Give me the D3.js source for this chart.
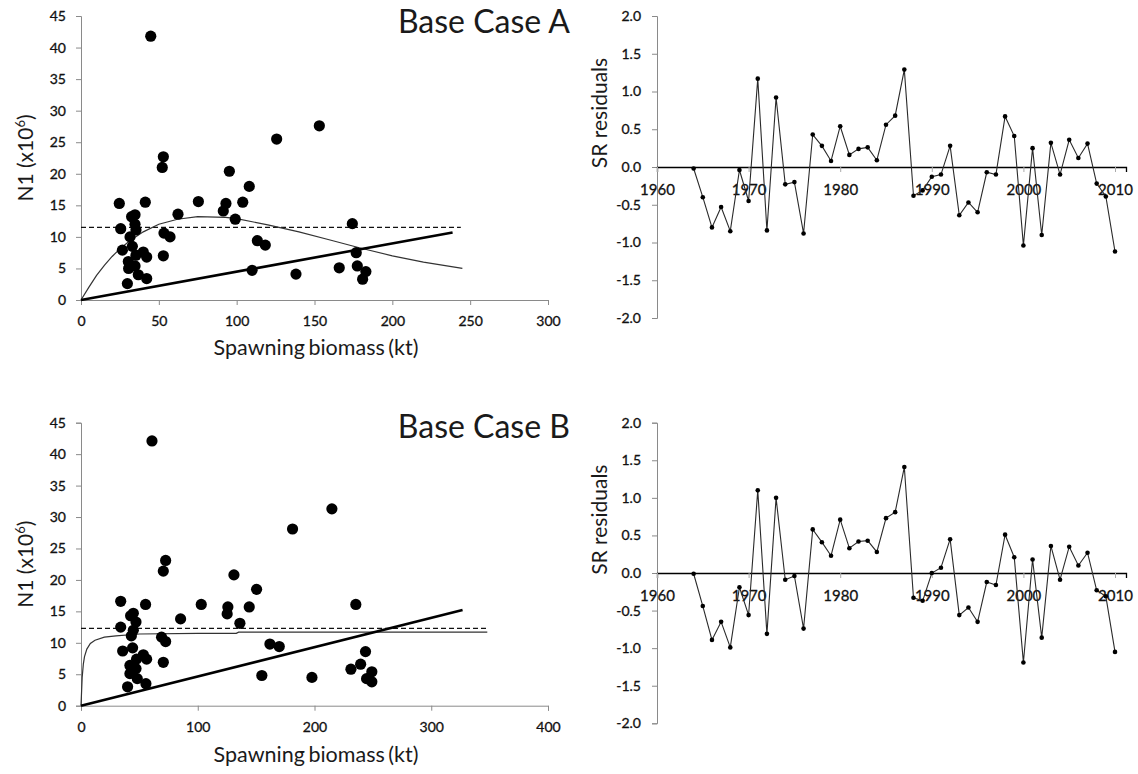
<!DOCTYPE html>
<html lang="en">
<head>
<meta charset="utf-8">
<script src="https://d3js.org/d3.v7.min.js"></script>
<style>
  body { margin: 0; background: #fff; }
  svg text { font-family: Lato, "Open Sans", sans-serif; fill: #1a1a1a; }
  .tick text { font-size: 14px; fill: #111; stroke: #111; stroke-width: 0.3px; }
  .grey path, .grey line { stroke: #8a8a8a; }
</style>
</head>
<body>
<script>
// ---- data ----
// Base Case A : stock-recruit points (spawning biomass kt, N1 x10^6)
var ssbA = [44.8, 125.7, 52.9, 52.2, 95.3, 108.1, 24.6, 41.3, 75.4, 93.1, 103.9, 91.4, 62.3, 32.5, 34.7, 99.1,
            34.7, 25.5, 35.3, 53.3, 57.2, 31.5, 113.3, 118.4, 26.6, 33.0, 40.0, 35.3, 42.2, 52.9, 30.4, 34.7,
            30.6, 109.9, 36.8, 42.2, 29.8, 138.1, 153.1, 174.3, 176.8, 165.9, 177.5, 183.0, 180.9];
var recA = [41.8, 25.5, 22.7, 21.0, 20.4, 18.0, 15.3, 15.5, 15.6, 15.3, 15.5, 14.1, 13.6, 13.2, 13.5, 12.8,
            12.0, 11.3, 11.1, 10.6, 10.0, 10.0, 9.4, 8.7, 7.9, 8.5, 7.6, 7.1, 6.8, 7.0, 6.1, 5.4,
            5.0, 4.7, 4.0, 3.4, 2.6, 4.1, 27.6, 12.1, 7.5, 5.1, 5.4, 4.5, 3.3];
// fitted curve A
var curveAx = [0, 5, 10, 15, 20, 25, 30, 35, 40, 50, 62, 75, 93, 100, 110, 120, 140, 160, 180, 200, 220, 245];
var curveAy = [0, 2.0, 3.9, 5.5, 6.9, 8.1, 9.1, 10.0, 10.8, 12.0, 12.8, 13.2, 13.1, 12.9, 12.4, 11.9, 10.8, 9.5, 8.2, 7.0, 6.0, 5.0];
var lineAx = [0, 238.7];   var lineAy = [0, 10.7];
var dashAx = [0, 244];     var dashAy = [11.5, 11.5];

// Base Case B
var ssbB = [60.8, 181.2, 72.5, 70.5, 131.0, 150.4, 34.0, 55.3, 103.0, 125.8, 144.1, 125.2, 44.8, 42.5, 85.3, 47.1,
            136.1, 34.0, 44.8, 43.1, 69.0, 72.5, 161.8, 169.8, 44.2, 35.7, 53.4, 47.6, 56.2, 70.5, 41.9, 47.1,
            41.9, 48.2, 55.6, 39.9, 154.9, 214.9, 235.4, 243.7, 239.5, 231.2, 249.1, 244.6, 249.1, 197.8];
var recB = [42.1, 28.1, 23.1, 21.4, 20.8, 18.5, 16.6, 16.1, 16.1, 15.7, 15.7, 14.6, 14.7, 14.3, 13.8, 13.3,
            13.1, 12.5, 12.0, 11.1, 10.9, 10.2, 9.8, 9.4, 9.2, 8.7, 8.1, 7.4, 7.4, 6.9, 6.4, 5.9,
            5.1, 4.3, 3.5, 3.0, 4.8, 31.3, 16.1, 8.6, 6.6, 5.8, 5.4, 4.3, 3.8, 4.5];
var curveBx = [0, 1, 2, 3, 5, 8, 12, 20, 30, 50, 100, 133, 135, 348];
var curveBy = [0, 4.5, 6.6, 7.8, 9.0, 9.9, 10.4, 10.9, 11.1, 11.4, 11.5, 11.5, 11.7, 11.7];
var lineBx = [0, 326.8];   var lineBy = [0, 15.2];
var dashBx = [0, 348];     var dashBy = [12.3, 12.3];

// residual years + values
var years = [1964, 1965, 1966, 1967, 1968, 1969, 1970, 1971, 1972, 1973, 1974, 1975, 1976, 1977, 1978, 1979,
             1980, 1981, 1982, 1983, 1984, 1985, 1986, 1987, 1988, 1989, 1990, 1991, 1992, 1993, 1994, 1995,
             1996, 1997, 1998, 1999, 2000, 2001, 2002, 2003, 2004, 2005, 2006, 2007, 2008, 2009, 2010];
var resA = [-0.02, -0.40, -0.80, -0.53, -0.85, -0.04, -0.45, 1.17, -0.84, 0.92, -0.23, -0.20, -0.88, 0.43, 0.28, 0.08,
            0.54, 0.16, 0.24, 0.26, 0.09, 0.56, 0.68, 1.29, -0.38, -0.31, -0.13, -0.10, 0.28, -0.64, -0.47, -0.60,
            -0.07, -0.10, 0.67, 0.41, -1.04, 0.25, -0.90, 0.32, -0.10, 0.36, 0.12, 0.31, -0.22, -0.39, -1.12];
var resB = [-0.01, -0.44, -0.89, -0.65, -0.99, -0.19, -0.56, 1.10, -0.81, 1.00, -0.09, -0.04, -0.74, 0.58, 0.41, 0.23,
            0.71, 0.33, 0.42, 0.43, 0.28, 0.73, 0.81, 1.41, -0.33, -0.37, 0.00, 0.07, 0.45, -0.56, -0.46, -0.65,
            -0.12, -0.16, 0.51, 0.21, -1.19, 0.18, -0.86, 0.36, -0.09, 0.35, 0.10, 0.27, -0.23, -0.31, -1.05];

var xTicksA = [0, 50, 100, 150, 200, 250, 300];
var xTicksB = [0, 100, 200, 300, 400];
var yTicksSR = [0, 5, 10, 15, 20, 25, 30, 35, 40, 45];
var yTicksRes = [-2.0, -1.5, -1.0, -0.5, 0.0, 0.5, 1.0, 1.5, 2.0];
var yearTicks = [1960, 1970, 1980, 1990, 2000, 2010];

var svg = d3.select("body").append("svg")
    .attr("width", 1138)
    .attr("height", 774);

function zip(a, b) { return a.map(function (v, i) { return [v, b[i]]; }); }

// ---------- stock-recruit panel ----------
function srPanel(o) {
  var x = d3.scaleLinear().domain(o.xDomain).range([81, 548]);
  var y = d3.scaleLinear().domain([0, 45]).range([o.y0, o.y45]);
  var g = svg.append("g");

  g.append("g").attr("class", "grey")
    .attr("transform", "translate(0," + o.y0 + ")")
    .call(d3.axisBottom(x).tickValues(o.xTicks).tickSize(5).tickPadding(11).tickFormat(d3.format("d")));
  g.append("g").attr("class", "grey")
    .attr("transform", "translate(81,0)")
    .call(d3.axisLeft(y).tickValues(yTicksSR).tickSize(5).tickPadding(10));

  var line = d3.line().x(function (d) { return x(d[0]); }).y(function (d) { return y(d[1]); });

  g.append("path").datum(zip(o.dashX, o.dashY)).attr("d", line)
    .attr("fill", "none").attr("stroke", "#111").attr("stroke-width", 1.3).attr("stroke-dasharray", "5,3");
  g.append("path").datum(zip(o.curveX, o.curveY)).attr("d", line)
    .attr("fill", "none").attr("stroke", "#333").attr("stroke-width", 1.2);
  g.append("path").datum(zip(o.lineX, o.lineY)).attr("d", line)
    .attr("fill", "none").attr("stroke", "#000").attr("stroke-width", 2.6);

  g.selectAll("circle.pt").data(zip(o.ssb, o.rec)).enter().append("circle")
    .attr("class", "pt")
    .attr("cx", function (d) { return x(d[0]); })
    .attr("cy", function (d) { return y(d[1]); })
    .attr("r", 5.6)
    .attr("fill", "#000");

  g.append("text").attr("x", 570).attr("y", o.titleY)
    .attr("text-anchor", "end").style("font-size", "32px").text(o.title);

  g.append("text").attr("x", 316).attr("y", o.xLabY)
    .attr("text-anchor", "middle").style("font-size", "21.5px").style("word-spacing", "-2px")
    .text("Spawning biomass (kt)");

  var yl = g.append("text")
    .attr("transform", "translate(33," + ((o.y0 + o.y45) / 2) + ") rotate(-90)")
    .attr("text-anchor", "middle").style("font-size", "21px");
  yl.append("tspan").text("N1 (x10");
  yl.append("tspan").attr("dy", -8).style("font-size", "13px").text("6");
  yl.append("tspan").attr("dy", 8).text(")");
}

// ---------- residual panel ----------
function resPanel(o) {
  var x = d3.scaleLinear().domain([1960, 2011.2]).range([657, 1126]);
  var y = d3.scaleLinear().domain([-2, 2]).range([o.yBot, o.yTop]);
  var g = svg.append("g");

  g.append("g").attr("class", "grey")
    .attr("transform", "translate(657,0)")
    .call(d3.axisLeft(y).tickValues(yTicksRes).tickSize(5).tickPadding(11)
      .tickFormat(function (d) { return d.toFixed(1); }));

  var xa = g.append("g")
    .attr("transform", "translate(0," + y(0) + ")")
    .call(d3.axisBottom(x).tickValues(yearTicks).tickSize(5).tickPadding(12).tickFormat(d3.format("d")));
  xa.select(".domain").attr("stroke", "#000").attr("stroke-width", 1.3);
  xa.selectAll(".tick line").attr("stroke", "#aaa");
  xa.selectAll(".tick text").style("font-size", "15px");

  var line = d3.line().x(function (d) { return x(d[0]); }).y(function (d) { return y(d[1]); });
  g.append("path").datum(zip(years, o.res)).attr("d", line)
    .attr("fill", "none").attr("stroke", "#2a2a2a").attr("stroke-width", 1.1);
  g.selectAll("circle.m").data(zip(years, o.res)).enter().append("circle")
    .attr("class", "m")
    .attr("cx", function (d) { return x(d[0]); })
    .attr("cy", function (d) { return y(d[1]); })
    .attr("r", 2.3)
    .attr("fill", "#000");

  g.append("text")
    .attr("transform", "translate(607," + (o.yTop + 97) + ") rotate(-90)")
    .attr("text-anchor", "middle").style("font-size", "21px").text("SR residuals");
}

srPanel({ xDomain: [0, 300], xTicks: xTicksA, y0: 300, y45: 16, ssb: ssbA, rec: recA,
  curveX: curveAx, curveY: curveAy, lineX: lineAx, lineY: lineAy, dashX: dashAx, dashY: dashAy,
  title: "Base Case A", titleY: 33, xLabY: 355 });
srPanel({ xDomain: [0, 400], xTicks: xTicksB, y0: 705.7, y45: 422.7, ssb: ssbB, rec: recB,
  curveX: curveBx, curveY: curveBy, lineX: lineBx, lineY: lineBy, dashX: dashBx, dashY: dashBy,
  title: "Base Case B", titleY: 438, xLabY: 762 });

resPanel({ res: resA, yTop: 16, yBot: 318 });
resPanel({ res: resB, yTop: 422.7, yBot: 723.3 });
</script>
</body>
</html>
